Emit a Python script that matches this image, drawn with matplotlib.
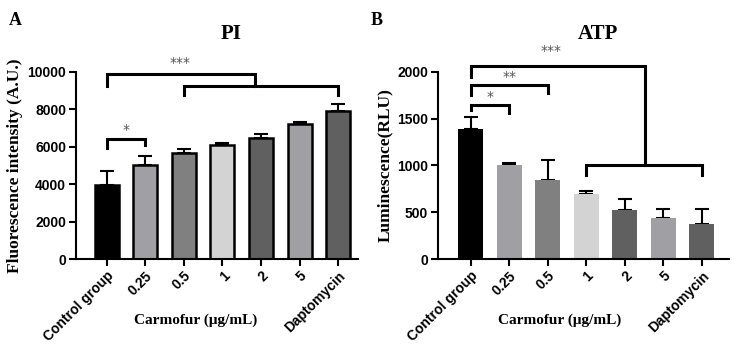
import matplotlib.pyplot as plt
import numpy as np

groups = ["Control group", "0.25", "0.5", "1", "2", "5", "Daptomycin"]
bar_colors = ["#000000", "#a0a0a4", "#808080", "#d3d3d3", "#606060", "#a0a0a4", "#606060"]

pi_mean = [3980, 5050, 5650, 6100, 6480, 7200, 7920]
pi_err = [720, 460, 250, 110, 220, 110, 360]

atp_mean = [1390, 1000, 840, 695, 525, 435, 375]
atp_err = [130, 30, 220, 35, 115, 95, 165]

SERIF = "Liberation Serif"
SANS = "Liberation Sans"


def bracket(ax, x1, x2, y, h1, h2, lw=2.2):
    ax.plot([x1, x1, x2, x2], [y - h1, y, y, y - h2], color="black",
            lw=lw, clip_on=False, solid_joinstyle="miter")


def style_axes(ax, ylabel, yticks, xlab_pos):
    x = np.arange(len(groups))
    ax.set_xticks(x)
    ax.set_xticklabels(groups, rotation=45, ha="right", rotation_mode="anchor",
                       fontfamily=SANS, fontweight="bold", fontsize=10)
    ax.set_yticks(yticks)
    ax.set_yticklabels([str(t) for t in yticks], fontfamily=SANS,
                       fontweight="bold", fontsize=10)
    ax.tick_params(width=1.5, length=5, pad=2)
    for s in ["top", "right"]:
        ax.spines[s].set_visible(False)
    for s in ["left", "bottom"]:
        ax.spines[s].set_linewidth(1.5)
    ax.set_ylabel(ylabel, fontfamily=SERIF, fontweight="bold", fontsize=12.5, labelpad=3)
    ax.set_xlabel("Carmofur (μg/mL)", fontfamily=SERIF, fontweight="bold",
                  fontsize=11, labelpad=-22)
    ax.xaxis.label.set_position((xlab_pos, 0))


fig = plt.figure(figsize=(7.37, 3.51), dpi=100)
x = np.arange(len(groups))

# Panel A: PI
axA = fig.add_axes([0.103, 0.262, 0.383, 0.533])
axA.bar(x, pi_mean, width=0.62, color=bar_colors, edgecolor="black", linewidth=1.8, zorder=2)
axA.errorbar(x, pi_mean, yerr=[np.zeros(len(x)), pi_err], fmt="none",
             ecolor="black", elinewidth=1.5, capsize=5, capthick=1.5, zorder=1)
axA.set_xlim(-0.8, 6.52)
axA.set_ylim(0, 10000)
style_axes(axA, "Fluorescence intensity (A.U.)", [0, 2000, 4000, 6000, 8000, 10000], 0.425)
bracket(axA, 0, 1, 6400, 470, 300)
axA.text(0.5, 6500, "*", ha="center", va="bottom", fontsize=10, color="#555555")
bracket(axA, 2, 6, 9250, 480, 480)
bracket(axA, 0, 3.85, 9900, 650, 650)
axA.text(1.9, 10100, "***", ha="center", va="bottom", fontsize=10, color="#555555")
axA.set_title("PI", fontfamily=SERIF, fontweight="bold", fontsize=15, pad=24, x=0.55)

# Panel B: ATP
axB = fig.add_axes([0.594, 0.262, 0.395, 0.533])
axB.bar(x, atp_mean, width=0.65, color=bar_colors, edgecolor="none", zorder=2)
axB.errorbar(x, atp_mean, yerr=[np.zeros(len(x)), atp_err], fmt="none",
             ecolor="black", elinewidth=1.5, capsize=5, capthick=1.5, zorder=1)
axB.set_xlim(-0.85, 6.7)
axB.set_ylim(0, 2000)
style_axes(axB, "Luminescence(RLU)", [0, 500, 1000, 1500, 2000], 0.42)
bracket(axB, 0, 1, 1650, 60, 90)
axB.text(0.5, 1660, "*", ha="center", va="bottom", fontsize=10, color="#555555")
bracket(axB, 0, 2, 1860, 110, 90)
axB.text(1, 1870, "**", ha="center", va="bottom", fontsize=10, color="#555555")
bracket(axB, 3, 6, 1005, 110, 110)
bracket(axB, 0, 4.53, 2065, 120, 1060)
axB.text(2.1, 2150, "***", ha="center", va="bottom", fontsize=10, color="#555555")
axB.set_title("ATP", fontfamily=SERIF, fontweight="bold", fontsize=15, pad=24, x=0.55)

fig.text(0.012, 0.93, "A", fontfamily=SERIF, fontweight="bold", fontsize=13)
fig.text(0.503, 0.93, "B", fontfamily=SERIF, fontweight="bold", fontsize=13)

fig.savefig("out.png", dpi=100)
